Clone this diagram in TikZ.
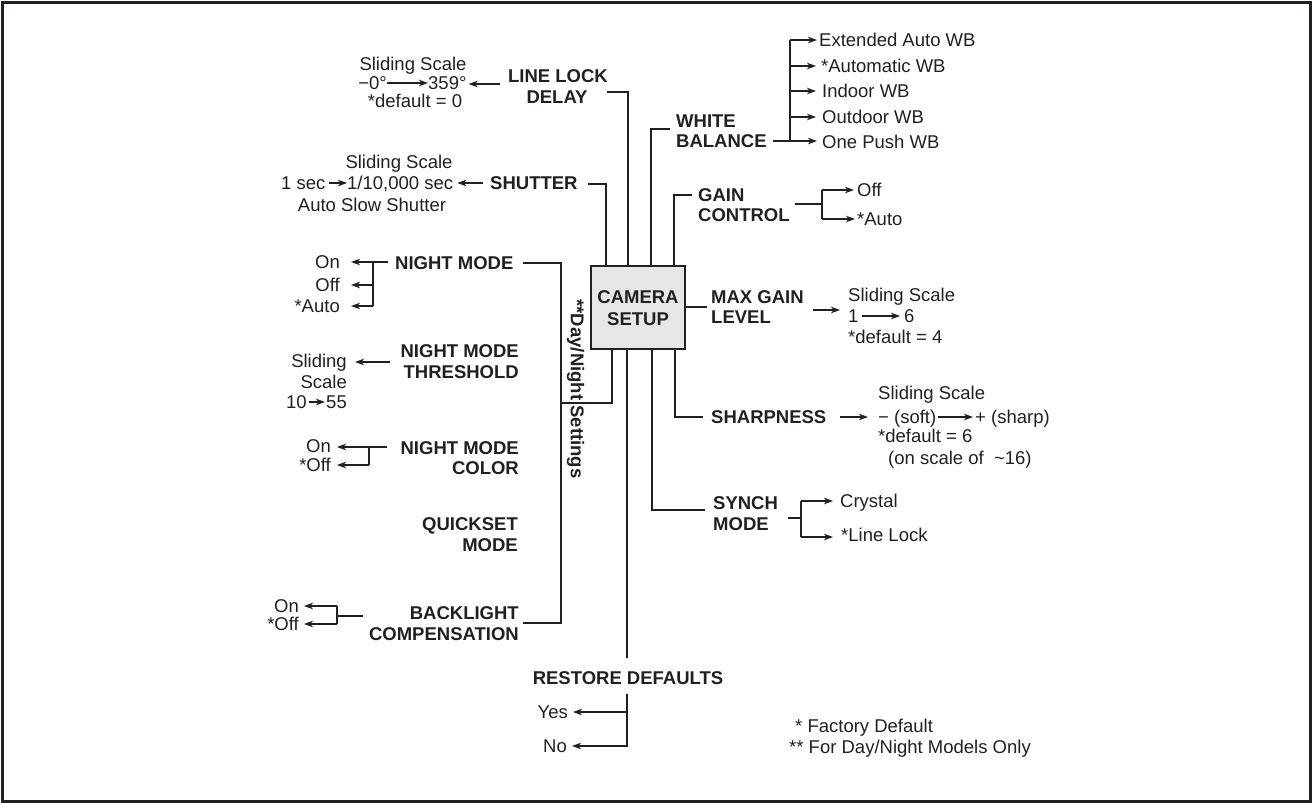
\documentclass[tikz,border=0pt]{standalone}
\usepackage{fontspec}
\setmainfont{Liberation Sans}
\usetikzlibrary{arrows.meta}
\definecolor{ink}{HTML}{231F20}
\definecolor{boxgray}{HTML}{E6E6E6}
\begin{document}
\begin{tikzpicture}[x=1pt,y=-1pt,
  lbl/.style={inner sep=0pt,text height=13.2pt,text depth=0pt,text=ink,font=\fontsize{18.5}{21}\selectfont},
  blb/.style={lbl,font=\fontsize{18.5}{21}\selectfont\bfseries},
  ln/.style={draw=ink,line width=1.3pt},
  arr/.style={ln,-{Stealth[length=9pt,width=6.5pt,inset=2.5pt]}}]
\useasboundingbox (0,0) rectangle (1312,803);
\draw[ink,line width=3pt] (2,2) rectangle (1310,801);

% central box
\node[draw=ink,line width=2.4pt,fill=boxgray,minimum width=94pt,minimum height=83pt,inner sep=0pt] (cam) at (638,307.5) {};
\node[blb] (camA) at (638,297) {CAMERA};
\node[blb] (camB) at (638,319) {SETUP};

% coordinates on the box edges
\coordinate (cT1) at (606,266); \coordinate (cT2) at (628,266);
\coordinate (cT3) at (651,266); \coordinate (cT4) at (674,266);
\coordinate (cR1) at (685,307);
\coordinate (cB1) at (612,349); \coordinate (cB2) at (627,349);
\coordinate (cB3) at (652,349); \coordinate (cB4) at (675,349);

% ---------- LINE LOCK DELAY ----------
\node[blb] (llA) at (558,76) {LINE LOCK};
\node[blb] (llB) at (557,97) {DELAY};
\node[lbl] (llS) at (413,64) {Sliding Scale};
\node[lbl,anchor=east] (llLo) at (387,83) {−0°};
\node[lbl,anchor=west] (llHi) at (428,83) {359°};
\node[lbl] (llD) at (415,101) {*default = 0};
\draw[arr] (llLo.east) -- (llHi.west);
\coordinate (llJ) at (607,92);
\draw[ln] (llJ) -| (cT2);
\coordinate (llQ) at (500,84);
\draw[arr] (llQ) -- ([xshift=2pt]llHi.east |- llQ);

% ---------- SHUTTER ----------
\node[blb,anchor=west] (sh) at (490,183) {SHUTTER};
\node[lbl] (shS) at (399,162) {Sliding Scale};
\node[lbl,anchor=west] (shLo) at (281,183) {1 sec};
\node[lbl,anchor=west] (shHi) at (347,183) {1/10,000 sec};
\node[lbl] (shA) at (372,205) {Auto Slow Shutter};
\draw[arr] ([xshift=3pt]shLo.east) -- (shHi.west);
\coordinate (shQ) at (483,183);
\draw[arr] (shQ) -- ([xshift=4pt]shHi.east |- shQ);
\coordinate (shJ) at (588,184);
\draw[ln] (shJ) -| (cT1);

% ---------- NIGHT MODE ----------
\node[blb,anchor=west] (nm) at (395,263) {NIGHT MODE};
\node[lbl,anchor=east] (nmOn) at (340,262) {On};
\node[lbl,anchor=east] (nmOff) at (340,285) {Off};
\node[lbl,anchor=east] (nmAu) at (340,306) {*Auto};
\coordinate (nmQ) at (388,262);
\coordinate (nmK) at (373,262);
\coordinate (nmK2) at (373,285);
\coordinate (nmK3) at (373,306);
\draw[arr] (nmQ) -- ([xshift=11pt]nmOn.east |- nmQ);
\draw[ln] (nmK) -- (nmK3);
\draw[arr] (nmK2) -- ([xshift=11pt]nmOff.east |- nmK2);
\draw[arr] (nmK3) -- ([xshift=11pt]nmAu.east |- nmK3);

% day/night bus
\coordinate (dnT) at (523,263);
\coordinate (dnBus) at (561,623);
\coordinate (dnB) at (523,623);
\draw[ln] (dnT) -| (dnBus) -- (dnB);
\coordinate (dnM) at (561,403);
\draw[ln] (cB1) |- (dnM);
\node[blb,rotate=-90] (dn) at (577.5,389) {**Day/Night Settings};

% ---------- NIGHT MODE THRESHOLD ----------
\node[blb,anchor=east] (ntA) at (519,351) {NIGHT MODE};
\node[blb,anchor=east] (ntB) at (519,372) {THRESHOLD};
\node[lbl,anchor=east] (ntS1) at (347,361) {Sliding};
\node[lbl,anchor=east] (ntS2) at (347,382) {Scale};
\node[lbl,anchor=west] (ntLo) at (286,402) {10};
\node[lbl,anchor=east] (ntHi) at (347,402) {55};
\draw[arr] ([xshift=2pt]ntLo.east) -- ([xshift=-1pt]ntHi.west);
\coordinate (ntQ) at (390,362);
\draw[arr] (ntQ) -- ([xshift=8pt]ntS1.east |- ntQ);

% ---------- NIGHT MODE COLOR ----------
\node[blb,anchor=east] (ncA) at (519,448) {NIGHT MODE};
\node[blb,anchor=east] (ncB) at (519,468) {COLOR};
\node[lbl,anchor=east] (ncOn) at (331,446) {On};
\node[lbl,anchor=east] (ncOff) at (331,465) {*Off};
\coordinate (ncQ) at (387,447);
\coordinate (ncK) at (369,447);
\coordinate (ncK2) at (369,465);
\draw[arr] (ncQ) -- ([xshift=6pt]ncOn.east |- ncQ);
\draw[ln] (ncK) -- (ncK2);
\draw[arr] (ncK2) -- ([xshift=6pt]ncOff.east |- ncK2);

% ---------- QUICKSET MODE ----------
\node[blb,anchor=east] (qsA) at (518,524) {QUICKSET};
\node[blb,anchor=east] (qsB) at (518,545) {MODE};

% ---------- BACKLIGHT COMPENSATION ----------
\node[blb,anchor=east] (blA) at (519,613) {BACKLIGHT};
\node[blb,anchor=east] (blB) at (519,634) {COMPENSATION};
\node[lbl,anchor=east] (blOn) at (299,606) {On};
\node[lbl,anchor=east] (blOff) at (299,624) {*Off};
\coordinate (blQ) at (363,616);
\coordinate (blK) at (337,616);
\coordinate (blK1) at (337,606);
\coordinate (blK2) at (337,624);
\draw[ln] (blQ) -- (blK);
\draw[ln] (blK1) -- (blK2);
\draw[arr] (blK1) -- ([xshift=5pt]blOn.east |- blK1);
\draw[arr] (blK2) -- ([xshift=5pt]blOff.east |- blK2);

% ---------- RESTORE DEFAULTS ----------
\node[blb] (rd) at (628,678) {RESTORE DEFAULTS};
\node[lbl,anchor=east] (rdY) at (568,712) {Yes};
\node[lbl,anchor=east] (rdN) at (567,746) {No};
\coordinate (rdT) at (627,658);
\draw[ln] (cB2) -- (rdT);
\coordinate (rdU) at (627,694);
\coordinate (rdYk) at (627,712);
\draw[arr] (rdU) |- ([xshift=5pt]rdN.east);
\draw[arr] (rdYk) -- ([xshift=5pt]rdY.east |- rdYk);

% ---------- WHITE BALANCE ----------
\node[blb,anchor=west] (wbA) at (676,121) {WHITE};
\node[blb,anchor=west] (wbB) at (676,141) {BALANCE};
\coordinate (wbJ) at (670,129);
\draw[ln] (wbJ) -| (cT3);
\node[lbl,anchor=west] (wb1) at (819,40) {Extended Auto WB};
\node[lbl,anchor=west] (wb2) at (821,66) {*Automatic WB};
\node[lbl,anchor=west] (wb3) at (822,91) {Indoor WB};
\node[lbl,anchor=west] (wb4) at (822,117) {Outdoor WB};
\node[lbl,anchor=west] (wb5) at (822,142) {One Push WB};
\coordinate (wbQ) at (773,141);
\coordinate (wbK1) at (790,40);
\coordinate (wbK2) at (790,66);
\coordinate (wbK3) at (790,91);
\coordinate (wbK4) at (790,117);
\coordinate (wbK5) at (790,141);
\draw[ln] (wbK1) -- (wbK5);
\draw[arr] (wbQ) -- ([xshift=-5pt]wb5.west |- wbQ);
\draw[arr] (wbK1) -- ([xshift=-2pt]wb1.west |- wbK1);
\draw[arr] (wbK2) -- ([xshift=-5pt]wb2.west |- wbK2);
\draw[arr] (wbK3) -- ([xshift=-6pt]wb3.west |- wbK3);
\draw[arr] (wbK4) -- ([xshift=-6pt]wb4.west |- wbK4);

% ---------- GAIN CONTROL ----------
\node[blb,anchor=west] (gcA) at (698,195) {GAIN};
\node[blb,anchor=west] (gcB) at (698,215) {CONTROL};
\coordinate (gcJ) at (692,195);
\draw[ln] (gcJ) -| (cT4);
\node[lbl,anchor=west] (gcOff) at (857,190) {Off};
\node[lbl,anchor=west] (gcAu) at (857,219) {*Auto};
\coordinate (gcQ) at (795,204);
\coordinate (gcK) at (822,204);
\coordinate (gcK1) at (822,190);
\coordinate (gcK2) at (822,219);
\draw[ln] (gcQ) -- (gcK);
\draw[ln] (gcK1) -- (gcK2);
\draw[arr] (gcK1) -- ([xshift=-3pt]gcOff.west |- gcK1);
\draw[arr] (gcK2) -- ([xshift=-2pt]gcAu.west |- gcK2);

% ---------- MAX GAIN LEVEL ----------
\node[blb,anchor=west] (mgA) at (711,297) {MAX GAIN};
\node[blb,anchor=west] (mgB) at (711,317) {LEVEL};
\coordinate (mgJ) at (707,307);
\draw[ln] (cR1) -- (mgJ);
\node[lbl,anchor=west] (mgS) at (848,295) {Sliding Scale};
\node[lbl,anchor=west] (mgLo) at (848,316) {1};
\node[lbl,anchor=west] (mgHi) at (904,316) {6};
\node[lbl,anchor=west] (mgD) at (848,337) {*default = 4};
\draw[arr] ([xshift=3pt]mgLo.east) -- ([xshift=-4pt]mgHi.west);
\coordinate (mgQ) at (813,310);
\draw[arr] (mgQ) -- ([xshift=-8pt]mgLo.west |- mgQ);

% ---------- SHARPNESS ----------
\node[blb,anchor=west] (sp) at (711,417) {SHARPNESS};
\coordinate (spJ) at (703,417);
\draw[ln] (cB4) |- (spJ);
\node[lbl,anchor=west] (spS) at (878,393) {Sliding Scale};
\node[lbl,anchor=west] (spLo) at (878,417) {− (soft)};
\node[lbl,anchor=west] (spHi) at (975,417) {+ (sharp)};
\node[lbl,anchor=west] (spD) at (878,436) {*default = 6};
\node[lbl,anchor=west] (spN) at (888,458) {(on scale of \ \textasciitilde16)};
\draw[arr] ([xshift=2pt]spLo.east) -- ([xshift=-2pt]spHi.west);
\coordinate (spQ) at (840,417);
\draw[arr] (spQ) -- ([xshift=-10pt]spLo.west |- spQ);

% ---------- SYNCH MODE ----------
\node[blb,anchor=west] (syA) at (713,503) {SYNCH};
\node[blb,anchor=west] (syB) at (713,524) {MODE};
\coordinate (syJ) at (705,510);
\draw[ln] (cB3) |- (syJ);
\node[lbl,anchor=west] (syC) at (840,501) {Crystal};
\node[lbl,anchor=west] (syL) at (841,535) {*Line Lock};
\coordinate (syQ) at (788,518);
\coordinate (syK) at (801,518);
\coordinate (syK1) at (801,501);
\coordinate (syK2) at (801,537);
\draw[ln] (syQ) -- (syK);
\draw[ln] (syK1) -- (syK2);
\draw[arr] (syK1) -- ([xshift=-7pt]syC.west |- syK1);
\draw[arr] (syK2) -- ([xshift=-8pt]syL.west |- syK2);

% ---------- footnotes ----------
\node[lbl,anchor=west] (fn1) at (795,726) {* Factory Default};
\node[lbl,anchor=west] (fn2) at (789,747) {** For Day/Night Models Only};
\end{tikzpicture}
\end{document}
